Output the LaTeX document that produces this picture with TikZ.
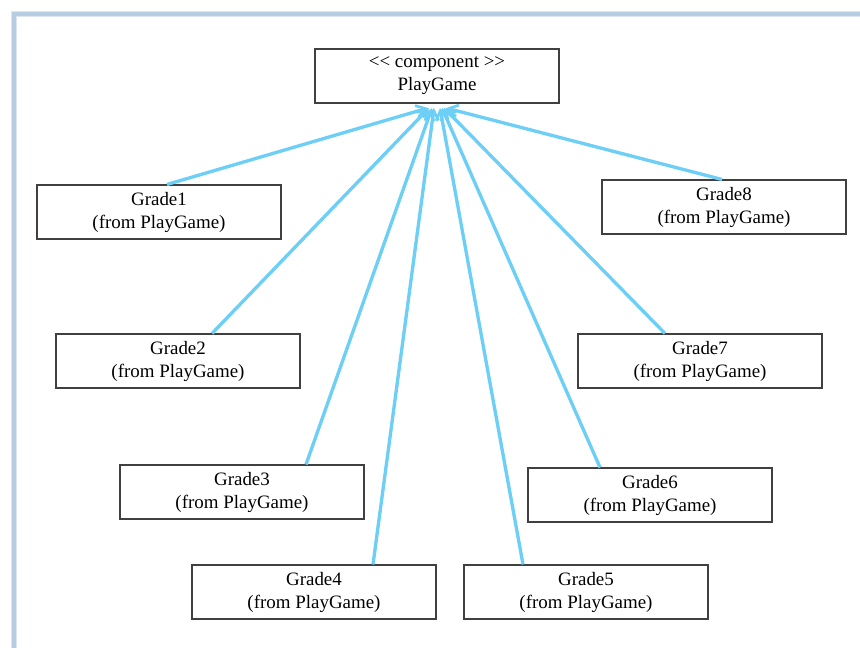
\documentclass[tikz,border=0pt]{standalone}
\usepackage{fontspec}
\setmainfont{Liberation Serif}[Ligatures=TeXOff]
\usetikzlibrary{arrows.meta}
\definecolor{conn}{HTML}{6DCFF6}
\definecolor{frame}{HTML}{B8CCE4}
\tikzset{
  box/.style={draw=black!75, line width=0.8pt, minimum width=183pt, minimum height=40.5pt,
    inner sep=0pt, align=center, font=\fontsize{14.2}{17.25}\selectfont, fill=white},
  link/.style={draw=conn, line width=2.5pt, -{Straight Barb[length=7pt,width=9pt,line width=2pt]}}
}
\begin{document}
\begin{tikzpicture}[x=0.75pt,y=-0.75pt]
\useasboundingbox (0,0) rectangle (860,648);
\draw[frame!50, line width=5pt] (14,648) -- (14,14) -- (860,14);
\draw[frame, line width=2.5pt] (14,648) -- (14,14) -- (860,14);
\node[box] (pg) at (437,76) {<< component >>\\PlayGame};
\node[box] (g1) at (159,212) {Grade1\\(from PlayGame)};
\node[box] (g8) at (724,207) {Grade8\\(from PlayGame)};
\node[box] (g2) at (178,361) {Grade2\\(from PlayGame)};
\node[box] (g7) at (700,361) {Grade7\\(from PlayGame)};
\node[box] (g3) at (242,492) {Grade3\\(from PlayGame)};
\node[box] (g6) at (650,495) {Grade6\\(from PlayGame)};
\node[box] (g4) at (314,592) {Grade4\\(from PlayGame)};
\node[box] (g5) at (586,592) {Grade5\\(from PlayGame)};
\coordinate (t1) at (428,108);
\coordinate (t2) at (429,108);
\coordinate (t3) at (432,108);
\coordinate (t4) at (434,108);
\coordinate (t5) at (440,108);
\coordinate (t6) at (442,108);
\coordinate (t7) at (444,108);
\coordinate (t8) at (446,108);
\draw[link] (g1.north -| 167,0) -- (t1);
\draw[link] (g2.north -| 212,0) -- (t2);
\draw[link] (g3.north -| 306,0) -- (t3);
\draw[link] (g4.north -| 373,0) -- (t4);
\draw[link] (g5.north -| 523,0) -- (t5);
\draw[link] (g6.north -| 600,0) -- (t6);
\draw[link] (g7.north -| 665,0) -- (t7);
\draw[link] (g8.north -| 722,0) -- (t8);
\end{tikzpicture}
\end{document}
